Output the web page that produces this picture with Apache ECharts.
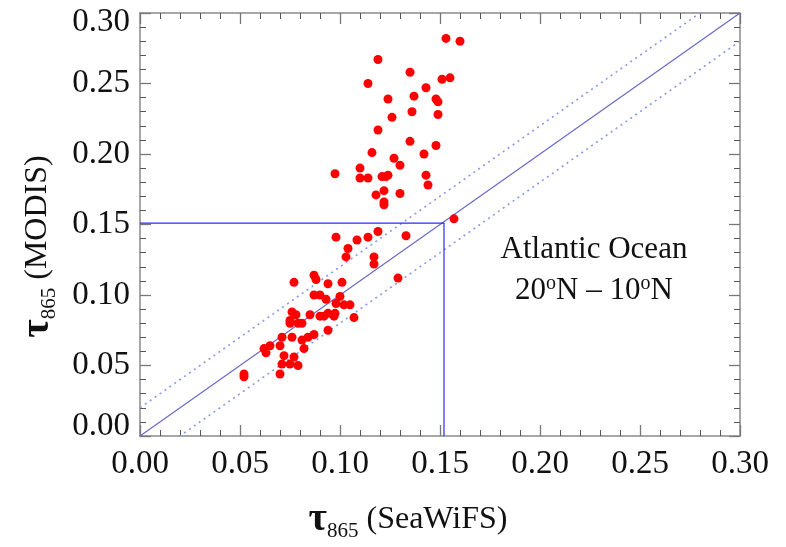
<!DOCTYPE html>
<html>
<head>
<meta charset="utf-8">
<script src="https://cdn.jsdelivr.net/npm/echarts@6/dist/echarts.min.js"></script>
<style>
html,body{margin:0;padding:0;background:#fff;}
#chart{width:786px;height:547px;}
</style>
</head>
<body>
<div id="chart"></div>
<script>
// SeaWiFS tau865 (x) and MODIS tau865 (y) for each matched point
const seawifs = [
  0.153,0.160,0.119,0.135,0.114,0.151,0.155,0.143,0.124,0.137,0.148,0.149,
  0.126,0.136,0.149,0.119,0.135,0.148,0.116,0.127,0.130,0.142,0.110,0.110,
  0.114,0.121,0.123,0.124,0.143,0.144,0.118,0.122,0.130,0.122,0.122,0.157,
  0.0975,0.098,0.104,0.103,0.1085,0.114,0.119,0.117,0.117,0.133,0.129,
  0.077,0.087,0.088,0.094,0.101,0.087,0.090,0.093,0.100,0.098,0.102,0.105,
  0.107,0.076,0.078,0.075,0.075,0.079,0.081,0.085,0.090,0.092,0.094,0.097,
  0.0975,0.094,0.087,0.084,0.081,0.082,0.076,0.071,0.070,0.065,0.062,0.063,
  0.072,0.077,0.075,0.071,0.079,0.070,0.052,0.052
];
const modis = [
  0.282,0.280,0.267,0.258,0.250,0.253,0.254,0.247,0.239,0.241,0.239,0.237,
  0.226,0.230,0.228,0.217,0.209,0.206,0.201,0.197,0.192,0.200,0.190,0.183,
  0.183,0.184,0.184,0.185,0.185,0.178,0.171,0.174,0.172,0.166,0.164,0.154,
  0.186,0.141,0.133,0.127,0.139,0.141,0.145,0.122,0.127,0.142,0.112,
  0.109,0.114,0.111,0.108,0.109,0.100,0.100,0.097,0.099,0.094,0.093,0.093,
  0.084,0.088,0.086,0.082,0.080,0.080,0.080,0.086,0.085,0.085,0.087,0.085,
  0.087,0.075,0.072,0.070,0.068,0.062,0.070,0.070,0.064,0.064,0.062,0.059,
  0.057,0.056,0.051,0.051,0.050,0.044,0.044,0.042
];
// reference lines
const oneToOneX = [0, 0.30];
const bandOffset = 0.02;
const crossX = 0.152;
const crossY = 0.151;
// axes
const axisMin = 0, axisMax = 0.30, majorStep = 0.05;
// annotation
const regionTitle = 'Atlantic Ocean';
const regionRange = '20{sup|o}N – 10{sup|o}N';

const FONT = "'Liberation Serif', 'Times New Roman', serif";

const chart = echarts.init(document.getElementById('chart'), null, {renderer: 'canvas'});

const frameAxis = {
  min: axisMin, max: axisMax, interval: majorStep,
  axisLine: {show: true, onZero: false, lineStyle: {color: '#8a8a8a', width: 1.5}},
  axisTick: {show: true, inside: true, length: 11, lineStyle: {color: '#777', width: 1.3}},
  minorTick: {show: true, splitNumber: 5, length: 6, lineStyle: {color: '#555', width: 1}},
  splitLine: {show: false},
  minorSplitLine: {show: false}
};

const tickFont = {fontFamily: FONT, fontSize: 33, color: '#111'};

const nameRich = {
  tau: {fontFamily: FONT, fontSize: 40, fontWeight: 'bold', color: '#111', lineHeight: 44},
  sub: {fontFamily: FONT, fontSize: 21, color: '#111', verticalAlign: 'bottom', lineHeight: 44, padding: [14, 0, 0, 0]},
  main: {fontFamily: FONT, fontSize: 32, color: '#111', lineHeight: 44}
};

const option = {
  animation: false,
  backgroundColor: '#fff',
  grid: {left: 140, right: 46, top: 13, bottom: 110, containLabel: false},
  xAxis: [
    Object.assign({}, frameAxis, {
      type: 'value', position: 'bottom',
      axisLabel: Object.assign({show: true, margin: 12, formatter: v => v.toFixed(2)}, tickFont),
      name: '{tau|τ}{sub|865}{main| (SeaWiFS)}',
      nameLocation: 'middle', nameGap: 62,
      nameTextStyle: {rich: nameRich, padding: [0, 64, 0, 0]}
    }),
    Object.assign({}, frameAxis, {
      type: 'value', position: 'top', axisLabel: {show: false}
    })
  ],
  yAxis: [
    Object.assign({}, frameAxis, {
      type: 'value', position: 'left',
      axisLabel: Object.assign({
        show: true, margin: 10,
        formatter: v => {
          const s = v.toFixed(2);
          if (Math.abs(v - axisMax) < 1e-9) return '{top|' + s + '}';
          if (Math.abs(v - axisMin) < 1e-9) return '{bot|' + s + '}';
          return s;
        },
        rich: {
          top: Object.assign({padding: [18, 0, 0, 0]}, tickFont),
          bot: Object.assign({padding: [0, 0, 20, 0]}, tickFont)
        }
      }, tickFont),
      name: '{tau|τ}{sub|865}{main| (MODIS)}',
      nameLocation: 'middle', nameGap: 80, nameRotate: 90,
      nameTextStyle: {rich: nameRich, padding: [0, 44, 0, 0]}
    }),
    Object.assign({}, frameAxis, {
      type: 'value', position: 'right', axisLabel: {show: false}
    })
  ],
  series: [
    {
      type: 'line', xAxisIndex: 0, yAxisIndex: 0, clip: true, symbol: 'none', silent: true,
      data: oneToOneX.map(x => [x, x + bandOffset]),
      lineStyle: {color: '#8a96f0', width: 1.6, type: [2, 4]}
    },
    {
      type: 'line', xAxisIndex: 0, yAxisIndex: 0, clip: true, symbol: 'none', silent: true,
      data: oneToOneX.map(x => [x, x - bandOffset]),
      lineStyle: {color: '#8a96f0', width: 1.6, type: [2, 4]}
    },
    {
      type: 'line', xAxisIndex: 0, yAxisIndex: 0, clip: true, symbol: 'none', silent: true,
      data: oneToOneX.map(x => [x, x]),
      lineStyle: {color: '#6a6ac8', width: 1.2}
    },
    {
      type: 'line', xAxisIndex: 0, yAxisIndex: 0, clip: true, symbol: 'none', silent: true,
      data: [[axisMin, crossY], [crossX, crossY], [crossX, axisMin]],
      lineStyle: {color: '#2a2aff', width: 1.2}
    },
    {
      type: 'scatter', xAxisIndex: 0, yAxisIndex: 0,
      symbol: 'circle', symbolSize: 9,
      itemStyle: {color: '#ff0000', opacity: 1},
      data: seawifs.map((x, i) => [x, modis[i]]),
      z: 5
    }
  ],
  graphic: [
    {
      type: 'text', x: 594, y: 250,
      style: {
        text: regionTitle,
        fontFamily: FONT, fontSize: 31, fill: '#111',
        textAlign: 'center', textVerticalAlign: 'middle'
      }
    },
    {
      type: 'text', x: 594, y: 291,
      style: {
        text: regionRange,
        fontFamily: FONT, fontSize: 31, fill: '#111',
        textAlign: 'center', textVerticalAlign: 'middle',
        rich: {
          sup: {fontFamily: FONT, fontSize: 20, fill: '#111', verticalAlign: 'top', lineHeight: 34}
        }
      }
    }
  ]
};

chart.setOption(option);
</script>
</body>
</html>
